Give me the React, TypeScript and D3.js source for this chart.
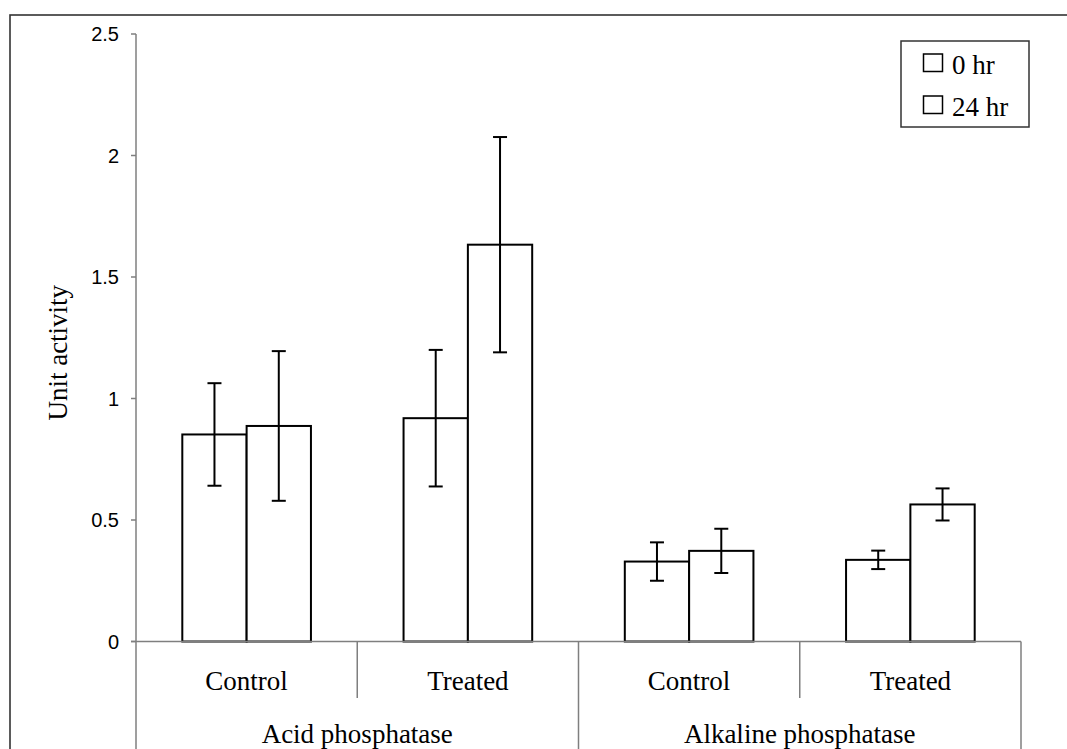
import React from "react";
import * as d3 from "d3";

const categories = ["Control", "Treated", "Control", "Treated"];
const groups = ["Acid phosphatase", "Alkaline phosphatase"];
const series = ["0 hr", "24 hr"];
const values0hr = [0.852, 0.919, 0.329, 0.336];
const values24hr = [0.887, 1.633, 0.373, 0.564];
const errors0hr = [0.211, 0.281, 0.079, 0.038];
const errors24hr = [0.308, 0.443, 0.091, 0.066];
const yTicks = [0, 0.5, 1, 1.5, 2, 2.5];

const W = 1067;
const H = 749;
const serif = "'Liberation Serif', 'Times New Roman', serif";
const sans = "'Liberation Sans', Arial, sans-serif";

export default function App() {
  const y = d3.scaleLinear().domain([0, 2.5]).range([641.5, 34]);
  const x = d3
    .scaleBand<number>()
    .domain(categories.map((_, i) => i))
    .range([136, 1021])
    .padding(0);
  const xi = d3
    .scaleBand<string>()
    .domain(series)
    .range([0, x.bandwidth()])
    .paddingInner(0)
    .paddingOuter(0.72);
  const groupScale = d3
    .scaleBand<string>()
    .domain(groups)
    .range([136, 1021])
    .padding(0);

  const data = categories.map((c, i) => [
    { s: series[0], v: values0hr[i], e: errors0hr[i] },
    { s: series[1], v: values24hr[i], e: errors24hr[i] },
  ]);

  const axisColor = "#7f7f7f";
  const bottom = H + 5;
  const capHalf = 7;

  return (
    <svg
      width={W}
      height={H}
      style={{ position: "fixed", left: 0, top: 0, background: "#fff" }}
    >
      <rect x={0} y={0} width={W} height={H} fill="#fff" />
      {/* outer frame */}
      <rect
        x={10}
        y={15}
        width={W + 20}
        height={H + 20}
        fill="none"
        stroke="#333"
        strokeWidth={1.6}
      />

      {/* bars */}
      {data.map((grp, i) =>
        grp.map((d) => {
          const bx = (x(i) as number) + (xi(d.s) as number);
          const bw = xi.bandwidth();
          const cx = bx + bw / 2;
          return (
            <g key={i + d.s}>
              <rect
                x={bx}
                y={y(d.v)}
                width={bw}
                height={y(0) - y(d.v)}
                fill="#fff"
                stroke="#000"
                strokeWidth={2}
              />
              <line x1={cx} x2={cx} y1={y(d.v + d.e)} y2={y(d.v - d.e)} stroke="#000" strokeWidth={2} />
              <line x1={cx - capHalf} x2={cx + capHalf} y1={y(d.v + d.e)} y2={y(d.v + d.e)} stroke="#000" strokeWidth={2} />
              <line x1={cx - capHalf} x2={cx + capHalf} y1={y(d.v - d.e)} y2={y(d.v - d.e)} stroke="#000" strokeWidth={2} />
            </g>
          );
        })
      )}

      {/* y axis */}
      <line x1={136} x2={136} y1={y(2.5)} y2={bottom} stroke={axisColor} strokeWidth={1.5} />
      {yTicks.map((t) => (
        <g key={t}>
          <line x1={131} x2={136} y1={y(t)} y2={y(t)} stroke={axisColor} strokeWidth={1.5} />
          <text
            x={119}
            y={y(t)}
            textAnchor="end"
            dominantBaseline="central"
            fontFamily={sans}
            fontSize={20}
            fill="#000"
          >
            {String(t)}
          </text>
        </g>
      ))}
      <text
        transform={`translate(67,${(y(2.5) + y(0)) / 2 + 15}) rotate(-90)`}
        textAnchor="middle"
        fontFamily={serif}
        fontSize={27}
        fill="#000"
      >
        Unit activity
      </text>

      {/* x axis */}
      <line x1={131} x2={1021} y1={y(0)} y2={y(0)} stroke={axisColor} strokeWidth={1.5} />
      {categories.map((c, i) => {
        const x0 = x(i) as number;
        const isGroupStart = i % 2 === 0;
        return (
          <g key={i}>
            {!isGroupStart && (
              <line x1={x0} x2={x0} y1={y(0)} y2={698} stroke={axisColor} strokeWidth={1.5} />
            )}
            <text
              x={x0 + x.bandwidth() / 2}
              y={690}
              textAnchor="middle"
              fontFamily={serif}
              fontSize={27}
              fill="#000"
            >
              {c}
            </text>
          </g>
        );
      })}
      {groups.map((g) => {
        const g0 = groupScale(g) as number;
        return (
          <g key={g}>
            <line
              x1={g0 + groupScale.bandwidth()}
              x2={g0 + groupScale.bandwidth()}
              y1={y(0)}
              y2={bottom}
              stroke={axisColor}
              strokeWidth={1.5}
            />
            <text
              x={g0 + groupScale.bandwidth() / 2}
              y={743}
              textAnchor="middle"
              fontFamily={serif}
              fontSize={27}
              fill="#000"
            >
              {g}
            </text>
          </g>
        );
      })}

      {/* legend */}
      <rect x={901} y={41} width={128} height={86} fill="#fff" stroke="#333" strokeWidth={1.5} />
      {series.map((s, i) => (
        <g key={s}>
          <rect x={923.5} y={54 + i * 42} width={19} height={17.5} fill="#fff" stroke="#000" strokeWidth={1.5} />
          <text x={952} y={74 + i * 42} fontFamily={serif} fontSize={27} fill="#000">
            {s}
          </text>
        </g>
      ))}
    </svg>
  );
}
